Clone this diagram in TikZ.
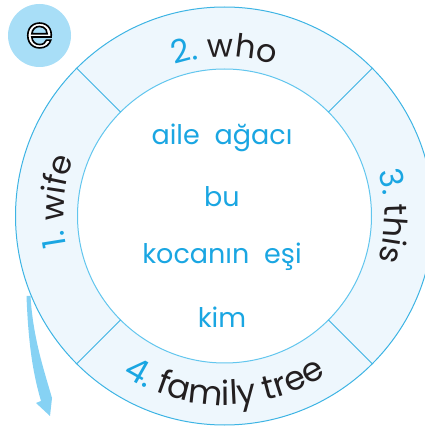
\documentclass[tikz,border=0pt]{standalone}
\usepackage{fontspec}
\setmainfont{Poppins}
\usetikzlibrary{decorations.text}
\definecolor{ringfill}{HTML}{EEF7FD}
\definecolor{ringline}{HTML}{3DB4E4}
\definecolor{innerline}{HTML}{62C6EE}
\definecolor{numc}{HTML}{1AA6E2}
\definecolor{wordc}{HTML}{231F20}
\definecolor{badgec}{HTML}{A8DEF7}
\definecolor{arrowc}{HTML}{86D2F4}
\newcommand{\rf}{\fontsize{32}{32}\selectfont}
\newcommand{\rfb}{\fontsize{33.5}{33.5}\selectfont}
\tikzset{
  centertext/.style={text=numc, font=\fontsize{27}{27}\selectfont, inner sep=0pt},
  ringline/.style={draw=ringline, line width=1pt},
}
\begin{document}
\begin{tikzpicture}[x=1pt,y=1pt]
\useasboundingbox (0,0) rectangle (424,429);
\coordinate (C) at (224.5,213);
\fill[ringfill] (C) circle[radius=209];
\fill[white] (C) circle[radius=147];
\draw[ringline] (C) circle[radius=209];
\draw[draw=innerline, line width=1pt] (C) circle[radius=147];
\foreach \a in {45,135,225,315}
  \draw[ringline] (C) ++(\a:147) -- ++(\a:62);
% ring labels
\path[decorate, decoration={text along path, text align=center,
  text={|\rf\color{numc}|2. |\rf\color{wordc}|who}}]
  (C) ++(130:159) arc[start angle=130, end angle=50, radius=159];
\path[decorate, decoration={text along path, text align=center,
  text={|\rf\color{numc}|1. |\rf\color{wordc}|wife}}]
  (C) ++(215:161) arc[start angle=215, end angle=135, radius=161];
\path[decorate, decoration={text along path, text align=center,
  text={|\rf\color{numc}|3. |\rf\color{wordc}|this}}]
  (C) ++(40:160) arc[start angle=40, end angle=-40, radius=160];
\path[decorate, decoration={text along path, text align=center,
  text={|\rfb\color{numc}|4. |\rfb\color{wordc}|family tree}}]
  (C) ++(215:189) arc[start angle=215, end angle=325, radius=189];
% center texts
\node[centertext] (t1) at (222,291) {aile\hspace{0.55em}ağacı};
\node[centertext] (t2) at (222,232) {bu};
\node[centertext] (t3) at (222,172) {kocanın\hspace{0.55em}eşi};
\node[centertext] (t4) at (222,112) {kim};
% badge
\node[circle, fill=badgec, minimum size=63pt, inner sep=0pt] (badge) at (39.5,393.5) {};
\node[text=white, inner sep=0pt, font=\fontsize{44}{44}\selectfont] (bl) at (badge.center)
  {\special{pdf:literal direct 0 0 0 RG 1.6 w 2 Tr}e\special{pdf:literal direct 0 Tr}};
% arrow
\fill[arrowc] (26.5,133) .. controls (28.5,80) and (34,52) .. (41,28) -- (36,26) -- (50,13) -- (52,31) .. controls (43,62) and (33,92) .. (30.5,133) -- cycle;
\end{tikzpicture}
\end{document}
